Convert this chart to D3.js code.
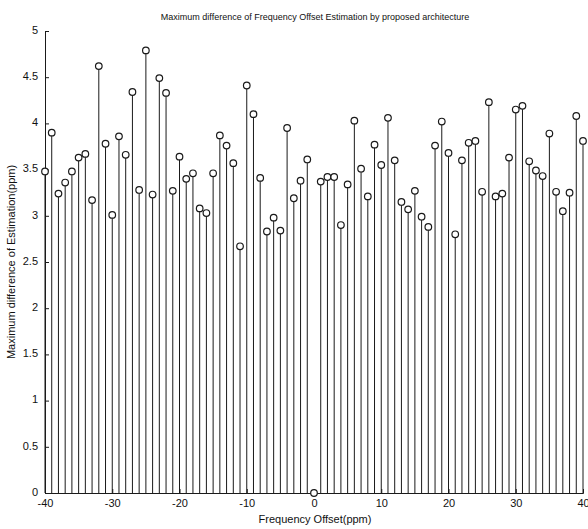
<!DOCTYPE html>
<html>
<head>
<meta charset="utf-8">
<script src="https://cdn.jsdelivr.net/npm/d3@7"></script>
<style>
  body { margin: 0; background: #ffffff; }
  text { font-family: "Liberation Sans", Arial, sans-serif; fill: #111; }
</style>
</head>
<body>
<div id="chart"></div>
<script>

const SVG_W = 588;
const SVG_H = 529;

const PLOT_X0 = 45;
const PLOT_X1 = 583;
const PLOT_Y0 = 31;
const PLOT_Y1 = 493;

const COLOR_LINE = "#1a1a1a";

// -------------------------------------------------

const offsets = d3.range(-40, 41);

const max_diff = [
    3.48, 3.90, 3.24, 3.36, 3.48, 3.63, 3.67, 3.17, 4.62, 3.78,   // -40 .. -31
    3.01, 3.86, 3.66, 4.34, 3.28, 4.79, 3.23, 4.49, 4.33, 3.27,   // -30 .. -21
    3.64, 3.40, 3.46, 3.08, 3.03, 3.46, 3.87, 3.76, 3.57, 2.67,   // -20 .. -11
    4.41, 4.10, 3.41, 2.83, 2.98, 2.84, 3.95, 3.19, 3.38, 3.61,   // -10 .. -1
    0.00,                                                         // 0
    3.37, 3.42, 3.42, 2.90, 3.34, 4.03, 3.51, 3.21, 3.77, 3.55,   // 1 .. 10
    4.06, 3.60, 3.15, 3.07, 3.27, 2.99, 2.88, 3.76, 4.02, 3.68,   // 11 .. 20
    2.80, 3.60, 3.79, 3.81, 3.26, 4.23, 3.21, 3.24, 3.63, 4.15,   // 21 .. 30
    4.19, 3.59, 3.49, 3.43, 3.89, 3.26, 3.05, 3.25, 4.08, 3.81    // 31 .. 40
];

const x_ticks = [-40, -30, -20, -10, 0, 10, 20, 30, 40];
const y_ticks = [0, 0.5, 1, 1.5, 2, 2.5, 3, 3.5, 4, 4.5, 5];

// -------------------------------------------------

let svg = d3.select("#chart")
            .append("svg")
                .attr("width", SVG_W)
                .attr("height", SVG_H);

let scaleX = d3.scaleLinear()
                .domain([-40, 40])
                .range([PLOT_X0, PLOT_X1]);

let scaleY = d3.scaleLinear()
                .domain([0, 5])
                .range([PLOT_Y1, PLOT_Y0]);

let data = offsets.map((d, i) => ({ x: d, y: max_diff[i] }));

// ---------------------------------------------------------------------------------

// stems
svg.append("g")
    .selectAll("line")
    .data(data)
    .join("line")
        .attr("x1", d => scaleX(d.x))
        .attr("x2", d => scaleX(d.x))
        .attr("y1", scaleY(0))
        .attr("y2", d => scaleY(d.y))
        .attr("stroke", COLOR_LINE)
        .attr("stroke-width", 1);

// axes (ticks inward like matlab), plain hyphen for negatives
let axisLeft = d3.axisLeft(scaleY)
                    .tickValues(y_ticks)
                    .tickSize(-4)
                    .tickPadding(7)
                    .tickFormat(d => String(d));

let gy = svg.append("g")
        .attr("transform", "translate(" + PLOT_X0 + ",0)")
        .call(axisLeft);

let axisBottom = d3.axisBottom(scaleX)
                    .tickValues(x_ticks)
                    .tickSize(-4)
                    .tickPadding(6)
                    .tickFormat(d => String(d));

let gx = svg.append("g")
        .attr("transform", "translate(0," + PLOT_Y1 + ")")
        .call(axisBottom);

[gx, gy].forEach(g => {
    g.select(".domain").attr("stroke", COLOR_LINE).attr("stroke-width", 1);
    g.selectAll(".tick line").attr("stroke", COLOR_LINE);
    g.selectAll(".tick text")
        .attr("fill", "#111")
        .style("font-family", "'Liberation Sans', Arial, sans-serif")
        .style("font-size", "11px");
});
gy.selectAll(".tick text").attr("dy", "0.2em");

// markers
svg.append("g")
    .selectAll("circle")
    .data(data)
    .join("circle")
        .attr("cx", d => scaleX(d.x))
        .attr("cy", d => scaleY(d.y))
        .attr("r", 3.3)
        .attr("fill", "#ffffff")
        .attr("stroke", COLOR_LINE)
        .attr("stroke-width", 1.2);

// ---------------------------------------------------------------------------------

svg.append("text")
        .attr("x", 315)
        .attr("y", 20)
        .attr("text-anchor", "middle")
        .style("font-size", "9px")
        .text("Maximum difference of Frequency Offset Estimation by proposed architecture");

svg.append("text")
        .attr("x", 315)
        .attr("y", 523)
        .attr("text-anchor", "middle")
        .style("font-size", "11px")
        .text("Frequency Offset(ppm)");

svg.append("text")
        .attr("transform", "translate(15," + ((PLOT_Y0 + PLOT_Y1) / 2) + ") rotate(-90)")
        .attr("text-anchor", "middle")
        .style("font-size", "11px")
        .text("Maximum difference of Estimation(ppm)");

</script>
</body>
</html>
